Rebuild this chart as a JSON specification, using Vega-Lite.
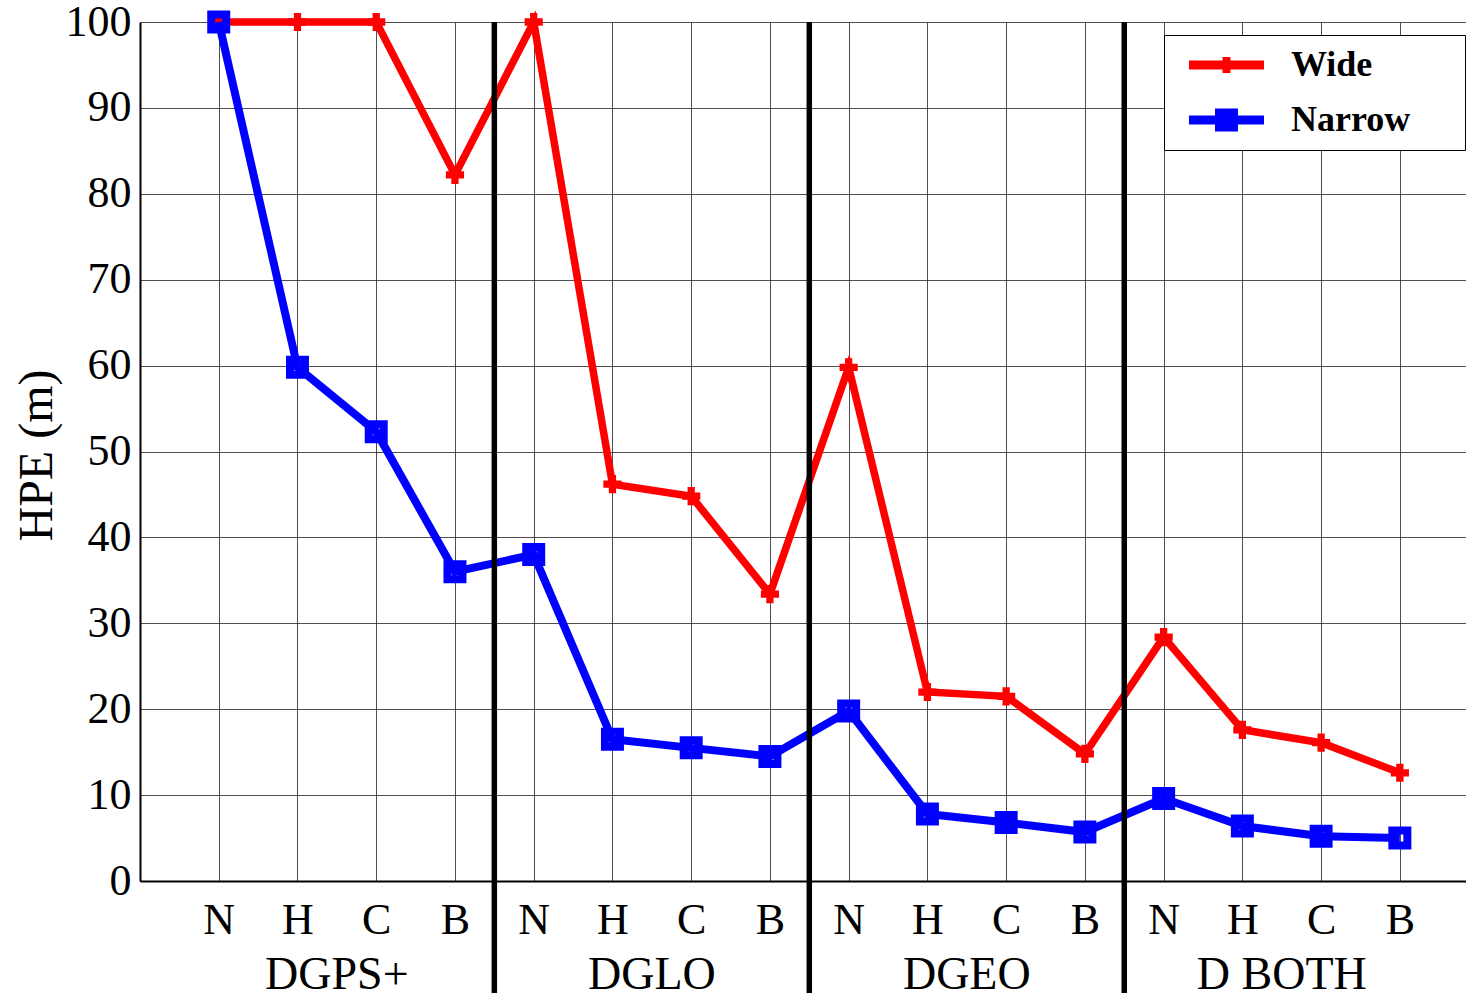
{
  "$schema": "https://vega.github.io/schema/vega-lite/v6.json",
  "width": 1326,
  "height": 859,
  "autosize": {"type": "none"},
  "padding": {"left": 140, "top": 22, "right": 0, "bottom": 112},
  "background": "white",
  "config": {
    "view": {"stroke": null},
    "font": "Liberation Serif",
    "axis": {
      "domainColor": "black",
      "domainWidth": 2,
      "gridColor": "#222222",
      "gridWidth": 1,
      "gridOpacity": 0.8,
      "ticks": false,
      "labelFont": "Liberation Serif",
      "labelColor": "black",
      "titleFont": "Liberation Serif",
      "titleColor": "black",
      "titleFontWeight": "normal"
    }
  },
  "datasets": {
    "pts": [
      {"pos": 1, "series": "Wide", "hpe": 100},
      {"pos": 2, "series": "Wide", "hpe": 100},
      {"pos": 3, "series": "Wide", "hpe": 100},
      {"pos": 4, "series": "Wide", "hpe": 82.2},
      {"pos": 5, "series": "Wide", "hpe": 100},
      {"pos": 6, "series": "Wide", "hpe": 46.2},
      {"pos": 7, "series": "Wide", "hpe": 44.8},
      {"pos": 8, "series": "Wide", "hpe": 33.4},
      {"pos": 9, "series": "Wide", "hpe": 59.8},
      {"pos": 10, "series": "Wide", "hpe": 22.0},
      {"pos": 11, "series": "Wide", "hpe": 21.5},
      {"pos": 12, "series": "Wide", "hpe": 14.8},
      {"pos": 13, "series": "Wide", "hpe": 28.4},
      {"pos": 14, "series": "Wide", "hpe": 17.6},
      {"pos": 15, "series": "Wide", "hpe": 16.1},
      {"pos": 16, "series": "Wide", "hpe": 12.6},
      {"pos": 1, "series": "Narrow", "hpe": 100},
      {"pos": 2, "series": "Narrow", "hpe": 59.8},
      {"pos": 3, "series": "Narrow", "hpe": 52.3},
      {"pos": 4, "series": "Narrow", "hpe": 36.0},
      {"pos": 5, "series": "Narrow", "hpe": 38.0},
      {"pos": 6, "series": "Narrow", "hpe": 16.5},
      {"pos": 7, "series": "Narrow", "hpe": 15.5},
      {"pos": 8, "series": "Narrow", "hpe": 14.5},
      {"pos": 9, "series": "Narrow", "hpe": 19.8},
      {"pos": 10, "series": "Narrow", "hpe": 7.8},
      {"pos": 11, "series": "Narrow", "hpe": 6.8},
      {"pos": 12, "series": "Narrow", "hpe": 5.7},
      {"pos": 13, "series": "Narrow", "hpe": 9.6},
      {"pos": 14, "series": "Narrow", "hpe": 6.4},
      {"pos": 15, "series": "Narrow", "hpe": 5.2},
      {"pos": 16, "series": "Narrow", "hpe": 5.0}
    ],
    "seps": [
      {"pos": 4.5, "hpe": -13.5, "hi": 100},
      {"pos": 8.5, "hpe": -13.5, "hi": 100},
      {"pos": 12.5, "hpe": -13.5, "hi": 100}
    ],
    "groups": [
      {"pos": 2.5, "hpe": -12.6, "label": "DGPS+"},
      {"pos": 6.5, "hpe": -12.6, "label": "DGLO"},
      {"pos": 10.5, "hpe": -12.6, "label": "DGEO"},
      {"pos": 14.5, "hpe": -12.6, "label": "D BOTH"}
    ],
    "leg": [
      {"series": "Wide"},
      {"series": "Narrow"}
    ]
  },
  "encoding": {
    "x": {
      "field": "pos", "type": "quantitative",
      "scale": {"domain": [0, 16.84], "nice": false, "zero": false},
      "axis": {
        "values": [1, 2, 3, 4, 5, 6, 7, 8, 9, 10, 11, 12, 13, 14, 15, 16],
        "labelExpr": "(datum.value % 4 == 1) ? 'N' : (datum.value % 4 == 2) ? 'H' : (datum.value % 4 == 3) ? 'C' : 'B'",
        "labelFontSize": 44,
        "labelPadding": 17,
        "labelFlush": false,
        "labelOverlap": false,
        "title": null,
        "grid": true
      }
    },
    "y": {
      "field": "hpe", "type": "quantitative",
      "scale": {"domain": [0, 100], "nice": false},
      "axis": {
        "values": [0, 10, 20, 30, 40, 50, 60, 70, 80, 90, 100],
        "labelFontSize": 44,
        "labelPadding": 9,
        "labelFlush": false,
        "labelOverlap": false,
        "title": "HPE (m)",
        "titleFontSize": 48,
        "titleAngle": 270,
        "titleX": -89,
        "titleY": 433,
        "titleBaseline": "alphabetic",
        "titleAlign": "center",
        "grid": true
      }
    }
  },
  "layer": [
    {
      "data": {"name": "pts"},
      "transform": [{"filter": "datum.series === 'Wide'"}],
      "mark": {"type": "line", "color": "#ff0000", "strokeWidth": 7.5, "strokeJoin": "miter"}
    },
    {
      "data": {"name": "pts"},
      "transform": [{"filter": "datum.series === 'Wide'"}],
      "mark": {"type": "point", "shape": "cross", "filled": true, "color": "#ff0000", "size": 330, "opacity": 1}
    },
    {
      "data": {"name": "pts"},
      "transform": [{"filter": "datum.series === 'Narrow'"}],
      "mark": {"type": "line", "color": "#0000ff", "strokeWidth": 8, "strokeJoin": "miter"}
    },
    {
      "data": {"name": "pts"},
      "transform": [{"filter": "datum.series === 'Narrow'"}],
      "mark": {"type": "point", "shape": "square", "filled": false, "color": "#0000ff", "size": 225, "strokeWidth": 8, "strokeJoin": "miter", "opacity": 1}
    },
    {
      "data": {"name": "seps"},
      "mark": {"type": "rule", "color": "black", "strokeWidth": 5.5, "clip": false},
      "encoding": {
        "y2": {"field": "hi"}
      }
    },
    {
      "data": {"name": "groups"},
      "mark": {"type": "text", "font": "Liberation Serif", "fontSize": 46, "color": "black", "baseline": "alphabetic", "align": "center"},
      "encoding": {
        "text": {"field": "label"}
      }
    },
    {
      "data": {"name": "leg"},
      "mark": {"type": "point", "filled": true, "opacity": 0},
      "encoding": {
        "color": {
          "field": "series", "type": "nominal",
          "scale": {"domain": ["Wide", "Narrow"], "range": ["#ff0000", "#0000ff"]},
          "legend": {
            "orient": "none",
            "legendX": 1024,
            "legendY": 13,
            "title": "\u00a0",
            "titleOrient": "right",
            "titlePadding": 43,
            "titleFontSize": 10,
            "padding": 12,
            "strokeColor": "black",
            "fillColor": "white",
            "symbolSize": 1296,
            "symbolStrokeWidth": 0,
            "symbolOpacity": 1,
            "labelFont": "Liberation Serif",
            "labelFontSize": 36,
            "labelFontWeight": "bold",
            "labelColor": "black",
            "labelOffset": 79,
            "rowPadding": 19
          }
        },
        "shape": {
          "field": "series", "type": "nominal",
          "scale": {
            "domain": ["Wide", "Narrow"],
            "range": [
              "M-0.278,-0.25H3.889V0.25H-0.278Z M1.586,-0.44H2.026V0.44H1.586Z",
              "M-0.278,-0.25H3.889V0.25H-0.278Z M1.167,-0.64H2.445V0.64H1.167Z"
            ]
          },
          "legend": {
            "orient": "none",
            "legendX": 1024,
            "legendY": 13,
            "title": "\u00a0",
            "titleOrient": "right",
            "titlePadding": 43,
            "titleFontSize": 10,
            "padding": 12,
            "strokeColor": "black",
            "fillColor": "white",
            "symbolSize": 1296,
            "symbolStrokeWidth": 0,
            "symbolOpacity": 1,
            "labelFont": "Liberation Serif",
            "labelFontSize": 36,
            "labelFontWeight": "bold",
            "labelColor": "black",
            "labelOffset": 79,
            "rowPadding": 19
          }
        }
      }
    }
  ]
}
